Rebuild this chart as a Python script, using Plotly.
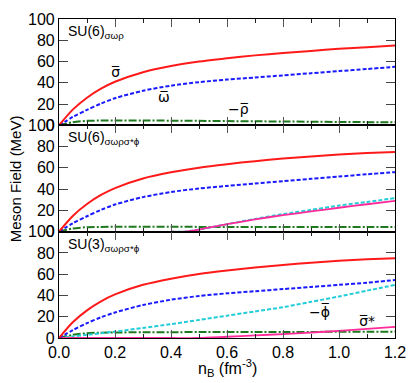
import plotly.graph_objects as go

# ---------------- data ----------------
nb = [0.0, 0.05, 0.1, 0.15, 0.2, 0.3, 0.4, 0.5, 0.6, 0.7, 0.8, 0.9, 1.0, 1.1, 1.2]

# Panel 1: SU(6) sigma-omega-rho
p1_sigma = [0, 15, 26, 34.5, 41, 50, 55.8, 60, 63, 65.8, 68, 70, 72, 73.5, 75]
p1_omega = [0, 8, 14.5, 20.5, 25.5, 32.5, 37.3, 40.6, 43, 45, 47, 49, 51, 53, 55]
p1_rho = [0, 3, 4.2, 4.5, 4.6, 4.5, 4.4, 4.2, 4.0, 3.8, 3.6, 3.4, 3.2, 3.0, 2.8]

# Panel 2: SU(6) sigma-omega-rho-sigma*-phi
p2_sigma = [0, 15, 26, 34.5, 41, 50, 55.8, 60.2, 63.5, 66.3, 68.7, 70.8, 72.6, 74, 75]
p2_omega = [0, 8, 14.5, 20.5, 25.5, 32.5, 37.3, 40.6, 43, 45.3, 47.5, 49.7, 51.8, 54, 56]
p2_rho = [0, 3, 4.2, 4.5, 4.6, 4.6, 4.6, 4.5, 4.5, 4.5, 4.5, 4.4, 4.4, 4.4, 4.4]
nb_strange = [0.4, 0.45, 0.5, 0.6, 0.7, 0.8, 0.9, 1.0, 1.1, 1.2]
p2_phi = [0, 0, 2, 7, 12, 16.5, 20.5, 24.5, 28, 31.5]
p2_sigstar = [0, 0, 2, 7, 11.5, 15.5, 19, 22.5, 25.8, 29]

# Panel 3: SU(3) sigma-omega-rho-sigma*-phi
p3_sigma = [0, 15, 26, 34.5, 41, 50, 55.8, 60.2, 63.5, 66.3, 68.7, 70.8, 72.6, 74, 75]
p3_omega = [0, 7.5, 14, 19.5, 24, 31, 36, 39.5, 42, 44, 46, 48, 50, 52, 54.5]
p3_rho = [0, 3, 4.5, 5, 5.2, 5.4, 5.5, 5.55, 5.6, 5.65, 5.7, 5.75, 5.8, 5.9, 6.0]
p3_phi = [0, 1.5, 3, 4.5, 6, 9.5, 13, 17, 21, 25, 29, 34, 39, 44.5, 50]
p3_sigstar = [0, 0, 0, 0, 0, 0, 0, 0, 1.2, 2.4, 3.7, 5.1, 6.7, 8.5, 10.5]

panel_titles = ["SU(6)<sub>σωρ</sub>", "SU(6)<sub>σωρσ*ϕ</sub>", "SU(3)<sub>σωρσ*ϕ</sub>"]
y_ticks = [0, 20, 40, 60, 80, 100]

# --------------- styles ---------------
RED = "#ff1a1a"
BLUE = "#1a1aff"
GREEN = "#1f7a1f"
CYAN = "#22ccd8"
MAG = "#ff2a9a"
DASH = "4px,2px"
DASHDOT = "8px,2px,2px,2px"

fig = go.Figure()

def add(x, y, color, dash, row, width=2):
    fig.add_trace(go.Scatter(
        x=x, y=y, mode="lines",
        line=dict(color=color, dash=dash, width=width, shape="spline", smoothing=0.8),
        xaxis="x" if row == 1 else f"x{row}",
        yaxis="y" if row == 1 else f"y{row}",
        showlegend=False, hoverinfo="skip"))

add(nb, p1_rho, GREEN, DASHDOT, 1)
add(nb, p1_omega, BLUE, DASH, 1)
add(nb, p1_sigma, RED, "solid", 1)

add(nb, p2_rho, GREEN, DASHDOT, 2)
add(nb_strange, p2_phi, CYAN, DASH, 2)
add(nb_strange, p2_sigstar, MAG, "solid", 2, 1.8)
add(nb, p2_omega, BLUE, DASH, 2)
add(nb, p2_sigma, RED, "solid", 2)

add(nb, p3_rho, GREEN, DASHDOT, 3)
add(nb, p3_phi, CYAN, DASH, 3)
add(nb, p3_sigstar, MAG, "solid", 3, 1.8)
add(nb, p3_omega, BLUE, DASH, 3)
add(nb, p3_sigma, RED, "solid", 3)

FONT = "Liberation Sans, Arial, sans-serif"

domains = [[2 / 3, 1.0], [1 / 3, 2 / 3], [0.0, 1 / 3]]

layout = dict(
    width=417, height=383,
    margin=dict(l=59, r=18, t=11, b=45),
    paper_bgcolor="white", plot_bgcolor="white",
    font=dict(family=FONT, size=16, color="black"),
)

for i in range(3):
    r = i + 1
    xk = "xaxis" if r == 1 else f"xaxis{r}"
    yk = "yaxis" if r == 1 else f"yaxis{r}"
    ya = "y" if r == 1 else f"y{r}"
    xa = "x" if r == 1 else f"x{r}"
    layout[xk] = dict(
        range=[0, 1.2], anchor=ya, domain=[0, 1],
        tickmode="linear", tick0=0, dtick=0.2, tickformat=".1f",
        showticklabels=(r == 3),
        ticks="inside", ticklen=8, tickwidth=1.2, tickcolor="#555",
        minor=dict(tickmode="linear", tick0=0, dtick=0.1, ticks="inside", ticklen=4,
                   tickcolor="#222", tickwidth=1),
        showline=True, linecolor="black", linewidth=1.2, mirror="ticks",
        showgrid=False, zeroline=False,
        tickfont=dict(size=16),
    )
    if r != 3:
        layout[xk]["matches"] = "x3"
    layout[yk] = dict(
        range=[0, 100], anchor=xa, domain=domains[i],
        tickvals=y_ticks, ticks="inside", ticklen=9, tickwidth=1.2, tickcolor="#444",
        showline=True, linecolor="black", linewidth=1.2, mirror="ticks",
        showgrid=False, zeroline=False, tickfont=dict(size=16),
    )

fig.update_layout(**layout)

ann = []
for i, t in enumerate(panel_titles):
    r = i + 1
    ann.append(dict(text=t, x=0.025, y=98, xref="x" if r == 1 else f"x{r}",
                    yref="y" if r == 1 else f"y{r}", xanchor="left", yanchor="top",
                    showarrow=False, font=dict(size=14)))

labels = [
    ("σ\u0305", 0.2, 50, 1),
    ("ω\u0305", 0.375, 27, 1),
    ("−ρ\u0305", 0.64, 15, 1),
    ("−ϕ\u0305", 0.93, 25, 3),
    ("σ\u0305*", 1.1, 16, 3),
]
for txt, x, y, r in labels:
    ann.append(dict(text=txt, x=x, y=y, xref="x" if r == 1 else f"x{r}",
                    yref="y" if r == 1 else f"y{r}", showarrow=False,
                    font=dict(size=14, family="DejaVu Sans, sans-serif")))

ann.append(dict(text="Meson Field (MeV)", x=-0.16, y=0.5, xref="paper", yref="paper",
                textangle=-90, showarrow=False, font=dict(size=15)))
ann.append(dict(text="n<sub>B</sub> (fm<sup>-3</sup>)", x=0.5, y=-0.093, xref="paper",
                yref="paper", yanchor="middle", showarrow=False, font=dict(size=16)))
fig.update_layout(annotations=ann)

fig.write_html("out.html", config={"displayModeBar": False},
               post_script="document.body.style.margin='0';")
